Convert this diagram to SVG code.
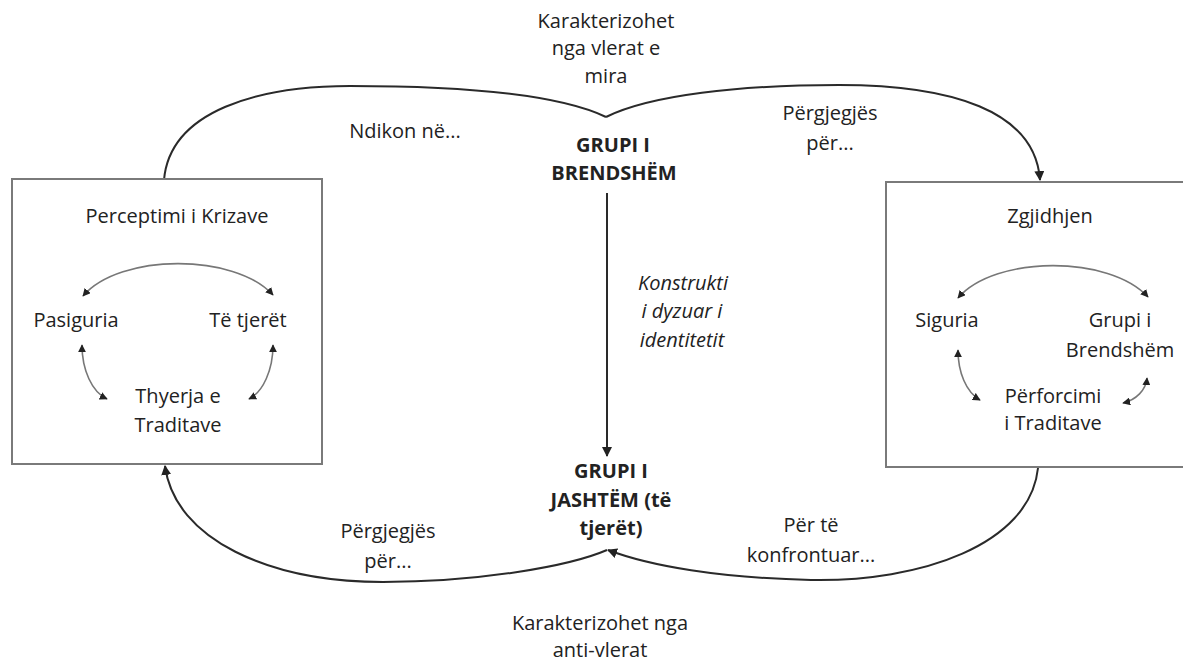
<svg xmlns="http://www.w3.org/2000/svg" width="1183" height="666" viewBox="0 0 1183 666">
<style>
text{font-family:"Open Sans","Liberation Sans",sans-serif;font-size:20px;fill:#222;text-anchor:middle}
.b{font-weight:bold}
.i{font-style:italic}
.box{fill:#fff;stroke:#7a7a7a;stroke-width:2}
.big{fill:none;stroke:#2a2a2a;stroke-width:2}
.sm{fill:none;stroke:#777;stroke-width:1.6}
</style>
<defs>
<marker id="ah" viewBox="0 0 10 10" refX="9" refY="5" markerWidth="5" markerHeight="5" orient="auto" markerUnits="strokeWidth"><path d="M0,0L10,5L0,10z" fill="#222"/></marker>
<marker id="as" viewBox="0 0 10 10" refX="9" refY="5" markerWidth="5" markerHeight="5" orient="auto-start-reverse" markerUnits="strokeWidth"><path d="M0,0L10,5L0,10z" fill="#222"/></marker>
</defs>
<g id="connectors">
<path class="big" d="M164,180 C170,110 260,86 350,86 C470,86 560,95 606,117"/>
<path class="big" d="M606,117 C650,95 740,85 839,85 C950,85 1035,110 1040,180" marker-end="url(#ah)"/>
<path class="big" d="M607,193 L607,456" marker-end="url(#ah)"/>
<path class="big" d="M607,550 C570,566 480,582 383,582 C270,582 175,540 165,466" marker-end="url(#ah)"/>
<path class="big" d="M1038,468 C1030,545 920,582 811,580 C720,578 650,566 608,550" marker-end="url(#ah)"/>
</g>
<g id="left-box">
<rect class="box" x="12" y="179" width="310" height="285"/>
<text x="177" y="223">Perceptimi i Krizave</text>
<path class="sm" d="M83,296 C120,253 235,253 273,295" marker-start="url(#as)" marker-end="url(#as)"/>
<path class="sm" d="M82,345 C82,370 92,392 107,399" marker-start="url(#as)" marker-end="url(#as)"/>
<path class="sm" d="M273,345 C273,370 263,392 249,399" marker-start="url(#as)" marker-end="url(#as)"/>
<text x="76" y="327">Pasiguria</text>
<text x="248" y="327">Të tjerët</text>
<text x="178" y="403">Thyerja e</text>
<text x="178" y="432">Traditave</text>
</g>
<g id="right-box">
<rect class="box" x="886" y="182" width="320" height="285"/>
<text x="1050" y="223">Zgjidhjen</text>
<path class="sm" d="M958,298 C995,255 1110,255 1148,297" marker-start="url(#as)" marker-end="url(#as)"/>
<path class="sm" d="M958,350 C958,372 966,392 980,400" marker-start="url(#as)" marker-end="url(#as)"/>
<path class="sm" d="M1147,378 C1146,390 1136,400 1123,403" marker-start="url(#as)" marker-end="url(#as)"/>
<text x="947" y="327">Siguria</text>
<text x="1120" y="327">Grupi i</text>
<text x="1120" y="357">Brendshëm</text>
<text x="1053" y="403">Përforcimi</text>
<text x="1053" y="430">i Traditave</text>
</g>
<g id="in-group">
<text class="b" x="613" y="152">GRUPI I</text>
<text class="b" x="614" y="180">BRENDSHËM</text>
</g>
<g id="out-group">
<text class="b" x="611" y="478">GRUPI I</text>
<text class="b" x="611" y="507">JASHTËM (të</text>
<text class="b" x="611" y="535">tjerët)</text>
</g>
<g id="labels">
<text x="606" y="28">Karakterizohet</text>
<text x="606" y="55">nga vlerat e</text>
<text x="606" y="83">mira</text>
<text x="405" y="138">Ndikon në...</text>
<text x="830" y="120">Përgjegjës</text>
<text x="830" y="150">për...</text>
<text class="i" x="683" y="290">Konstrukti</text>
<text class="i" x="682" y="318">i dyzuar i</text>
<text class="i" x="682" y="347">identitetit</text>
<text x="388" y="538">Përgjegjës</text>
<text x="388" y="568">për...</text>
<text x="811" y="532">Për të</text>
<text x="811" y="562">konfrontuar...</text>
<text x="600" y="630">Karakterizohet nga</text>
<text x="600" y="657">anti-vlerat</text>
</g>
</svg>
